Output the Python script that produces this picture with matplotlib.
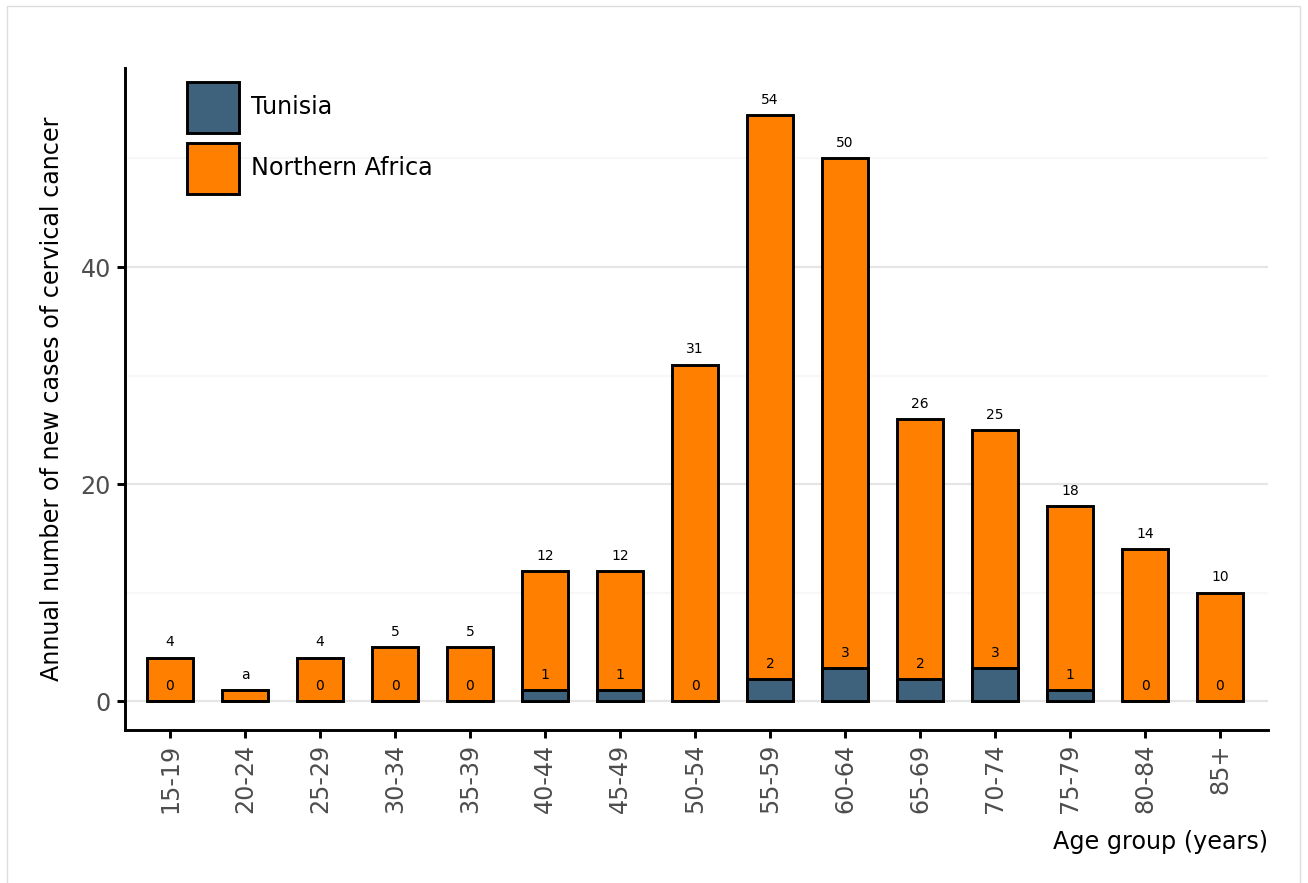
import matplotlib
matplotlib.use("Agg")
import matplotlib.pyplot as plt
from matplotlib.patches import Rectangle
import numpy as np

age_groups = ['15-19', '20-24', '25-29', '30-34', '35-39', '40-44', '45-49',
              '50-54', '55-59', '60-64', '65-69', '70-74', '75-79', '80-84', '85+']
northern_africa = [4, 1, 4, 5, 5, 12, 12, 31, 54, 50, 26, 25, 18, 14, 10]
northern_africa_labels = ['4', 'a', '4', '5', '5', '12', '12', '31', '54', '50',
                          '26', '25', '18', '14', '10']
tunisia = [0, 0, 0, 0, 0, 1, 1, 0, 2, 3, 2, 3, 1, 0, 0]
tunisia_labels = ['0', '', '0', '0', '0', '1', '1', '0', '2', '3', '2', '3', '1', '0', '0']
y_ticks = [0, 20, 40]

ORANGE = '#FF7F00'
BLUE = '#3E627C'
FS = 17.2
W, H = 1308, 883
fig = plt.figure(figsize=(W / 100, H / 100), dpi=100)
fig.patches.append(Rectangle((7 / W, -0.01), (1300 - 7) / W, (H - 6) / H + 0.01,
                             transform=fig.transFigure, fill=False,
                             edgecolor='#DDDDDD', linewidth=1))

ax = fig.add_axes([125 / W, (H - 730) / H, (1268 - 125) / W, (730 - 68) / H])
x = np.arange(len(age_groups))
bw = 0.61
ax.bar(x, northern_africa, width=bw, color=ORANGE, edgecolor='black',
       linewidth=2.1, label='Northern Africa', zorder=3)
ax.bar(x, tunisia, width=bw, color=BLUE, edgecolor='black',
       linewidth=2.1, label='Tunisia', zorder=4)

for xi, v, lab in zip(x, northern_africa, northern_africa_labels):
    ax.text(xi, v + 1.4, lab, ha='center', va='center', fontsize=10, zorder=5)
for xi, v, lab in zip(x, tunisia, tunisia_labels):
    if lab:
        ax.text(xi, v + 1.4, lab, ha='center', va='center', fontsize=10, zorder=5)

ax.set_xlim(-0.6, 14.64)
ax.set_ylim(-2.67, 58.34)
ax.set_xticks(x)
ax.set_xticklabels(age_groups, rotation=90, fontsize=FS, color='#4D4D4D')
ax.set_yticks(y_ticks)
ax.set_yticks([10, 30, 50], minor=True)
ax.tick_params(axis='y', which='minor', length=0)
ax.tick_params(axis='both', which='major', length=6, width=2.1, color='black',
               labelsize=FS, labelcolor='#4D4D4D', pad=4)
ax.grid(axis='y', which='major', color='#E5E5E5', linewidth=1.6, zorder=0)
ax.grid(axis='y', which='minor', color='#F7F7F7', linewidth=1.6, zorder=0)
for s in ['top', 'right']:
    ax.spines[s].set_visible(False)
for s in ['left', 'bottom']:
    ax.spines[s].set_linewidth(2.1)
ax.set_axisbelow(True)

ax.set_ylabel('Annual number of new cases of cervical cancer', fontsize=FS, labelpad=12)
ax.set_xlabel('Age group (years)', fontsize=FS, loc='right', labelpad=12)

handles, labels = ax.get_legend_handles_labels()
leg = ax.legend(handles[::-1], labels[::-1], loc='upper left',
                bbox_to_anchor=(62 / 1143, 1 - 14 / 662), frameon=False,
                fontsize=FS, handlelength=2.18, handleheight=2.9,
                labelspacing=0.42, handletextpad=0.5, borderpad=0, borderaxespad=0)

fig.savefig('out.png', dpi=100)
